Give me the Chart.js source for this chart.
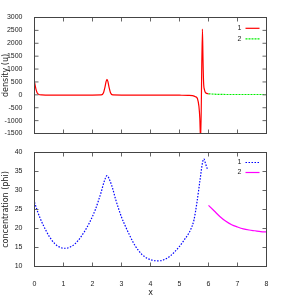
<!DOCTYPE html>
<html>
<head>
<meta charset="utf-8">
<script src="https://cdn.jsdelivr.net/npm/chart.js@4/dist/chart.umd.min.js"></script>
<style>
html,body{margin:0;padding:0;background:#fff;}
#wrap{position:relative;width:289px;height:305px;}
canvas{position:absolute;left:0;top:0;}
</style>
</head>
<body>
<div id="wrap">
<canvas id="top" width="289" height="305"></canvas>
<canvas id="bot" width="289" height="305"></canvas>
</div>
<script>
// ---- data ----
const densLabels = ['1', '2'];
const densX1 = [0,0.03,0.06,0.1,0.15,0.25,0.5,1,1.5,2,2.3,2.38,2.43,2.47,2.5,2.53,2.57,2.62,2.7,3,3.5,4,4.5,5,5.3,5.45,5.55,5.62,5.67,5.7,5.73,5.79,5.81,5.83,5.86,5.9,6.0];
const densY1 = [500,330,180,60,15,0,-10,-10,-10,-10,-5,80,300,520,600,520,300,80,-5,-10,-10,-10,-10,-15,-20,-30,-70,-150,-450,-900,-1800,2550,1400,500,200,80,40];
const densX2 = [6,6.2,6.5,7,7.5,8];
const densY2 = [40,25,15,12,12,12];

const concLabels = ['1', '2'];
const concX1 = [0,0.1,0.2,0.3,0.4,0.5,0.6,0.7,0.8,0.9,1.0,1.1,1.2,1.3,1.4,1.5,1.6,1.7,1.8,1.9,2.0,2.1,2.2,2.3,2.4,2.5,2.6,2.7,2.8,2.9,3.0,3.1,3.2,3.3,3.4,3.5,3.6,3.7,3.8,3.9,4.0,4.1,4.2,4.3,4.4,4.5,4.6,4.7,4.8,4.9,5.0,5.1,5.2,5.3,5.4,5.5,5.6,5.7,5.8,5.84,5.9,5.96];
const concY1 = [26.9,24.6,22.6,20.9,19.4,18.0,16.9,16.0,15.4,15.0,14.8,14.8,15.0,15.4,16.0,16.8,17.8,18.9,20.2,21.6,23.2,25.0,27.2,29.6,32.3,33.9,32.6,30.4,27.6,25.2,23.0,21.2,19.5,17.9,16.4,15.1,14.1,13.2,12.6,12.1,11.8,11.6,11.5,11.5,11.6,11.9,12.3,12.9,13.6,14.4,15.3,16.3,17.4,18.5,20.0,22.3,26.8,32.3,37.6,38.3,37.0,35.7];
const concX2 = [6,6.2,6.4,6.6,6.8,7,7.2,7.4,7.6,7.8,8];
const concY2 = [26.1,24.6,23.1,21.9,21.0,20.4,19.9,19.6,19.4,19.2,19.1];

const xTicks = [0,1,2,3,4,5,6,7,8];
const densTicks = [-1500,-1000,-500,0,500,1000,1500,2000,2500,3000];
const concTicks = [10,15,20,25,30,35,40];

// ---- helpers ----
const pts = (xs, ys) => xs.map((x, i) => ({x, y: ys[i]}));
const tickFont = {family: "'Liberation Sans Narrow','Liberation Sans',sans-serif", size: 7};
const titleFont = {family: "'DejaVu Sans',sans-serif", size: 8};
const TEXT = '#222';

const framePlugin = {
  id: 'frame',
  afterDatasetsDraw(chart) {
    const {ctx, chartArea: a, scales} = chart;
    ctx.save();
    ctx.lineWidth = 1;
    ctx.strokeStyle = '#666';
    ctx.beginPath();
    const tl = 4;
    scales.x.ticks.forEach(t => {
      const px = scales.x.getPixelForValue(t.value);
      ctx.moveTo(px, a.bottom); ctx.lineTo(px, a.bottom - tl);
      ctx.moveTo(px, a.top); ctx.lineTo(px, a.top + tl);
    });
    scales.y.ticks.forEach(t => {
      const py = scales.y.getPixelForValue(t.value);
      ctx.moveTo(a.left, py); ctx.lineTo(a.left + tl, py);
      ctx.moveTo(a.right, py); ctx.lineTo(a.right - tl, py);
    });
    ctx.stroke();
    ctx.strokeStyle = '#444';
    ctx.strokeRect(a.left, a.top, a.right - a.left, a.bottom - a.top);
    // legend (top right, inside)
    const o = chart.options.plugins.keyBox;
    ctx.font = tickFont.size + 'px ' + tickFont.family;
    ctx.textAlign = 'right';
    ctx.textBaseline = 'middle';
    chart.data.datasets.forEach((ds, i) => {
      const y = a.top + o.firstRow + i * o.rowGap;
      ctx.fillStyle = TEXT;
      ctx.fillText(ds.label, a.right - 25, y);
      ctx.strokeStyle = ds.borderColor;
      ctx.lineWidth = ds.borderWidth;
      ctx.setLineDash(ds.borderDash || []);
      ctx.beginPath();
      ctx.moveTo(a.right - 21, y); ctx.lineTo(a.right - 7, y);
      ctx.stroke();
      ctx.setLineDash([]);
    });
    ctx.restore();
  }
};

function makeChart(id, cfg) {
  return new Chart(document.getElementById(id), {
    type: 'line',
    data: {datasets: cfg.datasets},
    options: {
      responsive: false,
      animation: false,
      devicePixelRatio: 1,
      layout: {padding: {left: 0, right: 22.5, top: cfg.top, bottom: 0}},
      elements: {point: {radius: 0}, line: {cubicInterpolationMode: 'monotone'}},
      plugins: {legend: {display: false}, tooltip: {enabled: false}, keyBox: cfg.key},
      scales: {
        x: {
          type: 'linear', min: 0, max: 8, offset: false,
          grid: {display: false}, border: {display: false},
          afterBuildTicks: s => { s.ticks = xTicks.map(v => ({value: v})); },
          ticks: {display: cfg.showX, font: tickFont, color: TEXT, padding: 5, maxRotation: 0,
                  callback: v => String(v)},
          title: {display: cfg.showX, text: 'x', font: titleFont, color: TEXT, padding: {top: 0, bottom: 7}},
          afterFit: s => { s.height = cfg.xHeight; }
        },
        y: {
          type: 'linear', min: cfg.yMin, max: cfg.yMax,
          grid: {display: false}, border: {display: false},
          afterBuildTicks: s => { s.ticks = cfg.yTicks.map(v => ({value: v})); },
          ticks: {font: tickFont, color: TEXT, padding: 4, callback: v => String(v)},
          title: {display: true, text: cfg.yTitle, font: titleFont, color: TEXT, padding: {top: 0.8, bottom: 0}},
          afterFit: s => { s.width = 34.5; }
        }
      }
    },
    plugins: [framePlugin]
  });
}

makeChart('top', {
  top: 17.5, xHeight: 305 - 133.5, showX: false,
  yMin: -1500, yMax: 3000, yTicks: densTicks, yTitle: 'density (u)',
  key: {firstRow: 10.8, rowGap: 10.5},
  datasets: [
    {label: densLabels[0], data: pts(densX1, densY1), borderColor: '#ff0000', borderWidth: 1.2, fill: false},
    {label: densLabels[1], data: pts(densX2, densY2), borderColor: '#00ee00', borderWidth: 1.2, borderDash: [2, 1], fill: false}
  ]
});

makeChart('bot', {
  top: 152.5, xHeight: 305 - 266.5, showX: true,
  yMin: 10, yMax: 40, yTicks: concTicks, yTitle: 'concentration (phi)',
  key: {firstRow: 10, rowGap: 10},
  datasets: [
    {label: concLabels[0], data: pts(concX1, concY1), borderColor: '#0000ff', borderWidth: 1.2, borderDash: [1.5, 1.5], fill: false},
    {label: concLabels[1], data: pts(concX2, concY2), borderColor: '#ff00ff', borderWidth: 1.2, fill: false}
  ]
});
</script>
</body>
</html>
